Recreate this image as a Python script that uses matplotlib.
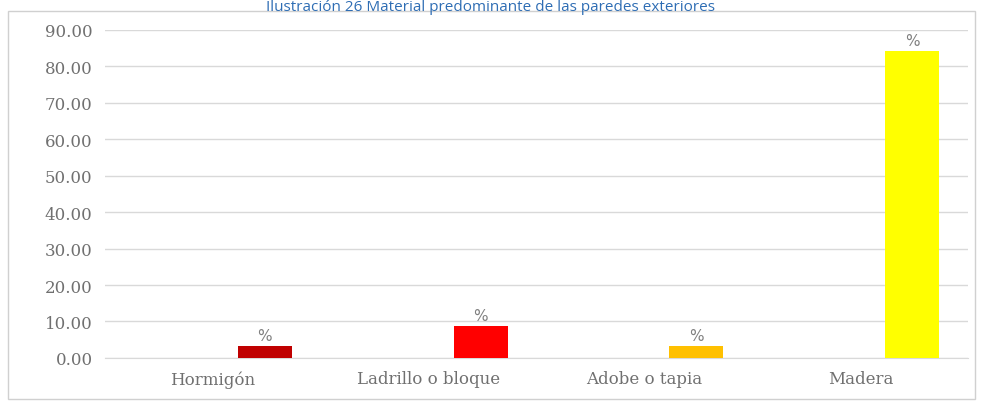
import matplotlib
matplotlib.use("Agg")
import matplotlib.pyplot as plt
from matplotlib.patches import Rectangle
import numpy as np

categorias = ["Hormigón", "Ladrillo o bloque", "Adobe o tapia", "Madera"]
valores = [3.3, 8.8, 3.3, 84.2]
etiquetas = ["%", "%", "%", "%"]
colores = ["#C00000", "#FF0000", "#FFC000", "#FFFF00"]
yticks = np.arange(0, 100, 10)

fig = plt.figure(figsize=(9.82, 4.06), dpi=100)
ax = fig.add_axes([0.107, 0.116, 0.879, 0.808])

x = np.arange(len(categorias))
barras = ax.bar(x + 0.24, valores, width=0.25, color=colores, zorder=3)

for b, t in zip(barras, etiquetas):
    ax.text(b.get_x() + b.get_width() / 2, b.get_height() + 0.8, t,
            ha="center", va="bottom", fontsize=11, color="#808080",
            family="DejaVu Sans")

ax.set_xlim(-0.5, len(categorias) - 0.5)
ax.set_ylim(0, 90)
ax.set_yticks(yticks)
ax.set_yticklabels([f"{v:.2f}" for v in yticks], family="DejaVu Serif",
                   fontsize=12, color="#707070")
ax.set_xticks(x)
ax.set_xticklabels(categorias, family="DejaVu Serif", fontsize=12,
                   color="#707070")
ax.tick_params(axis="x", length=0, pad=9)
ax.tick_params(axis="y", length=0, pad=9)
ax.grid(axis="y", color="#d9d9d9", linewidth=1, zorder=0)
for s in ["top", "right", "left"]:
    ax.spines[s].set_visible(False)
ax.spines["bottom"].set_color("#d9d9d9")

# marco del gráfico
fig.patches.append(Rectangle((0.008, 0.015), 0.985, 0.955, transform=fig.transFigure,
                             fill=False, edgecolor="#d0d0d0", linewidth=1))

fig.text(0.5, 0.999, "Ilustración 26 Material predominante de las paredes exteriores",
         ha="center", va="top", fontsize=11, color="#2E6DB4",
         family="Open Sans")

fig.savefig("out.png", dpi=100)
